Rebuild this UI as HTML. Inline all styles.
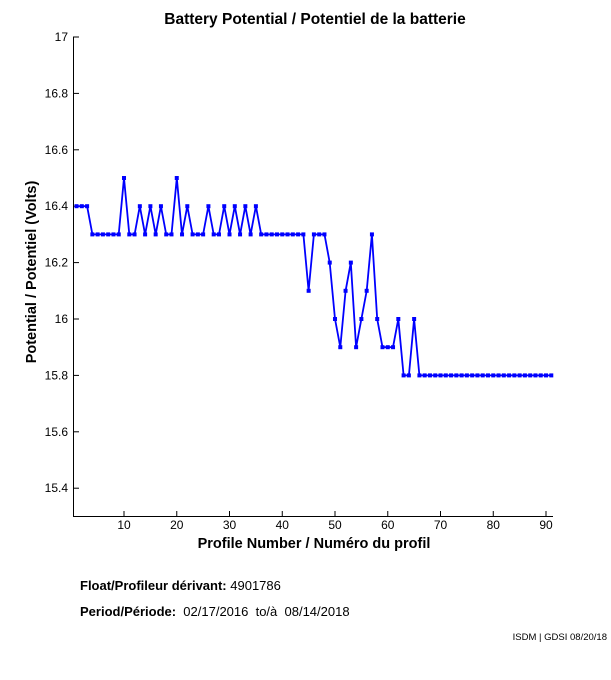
<!DOCTYPE html>
<html><head><meta charset="utf-8"><style>
body{margin:0;background:#fff;width:611px;height:675px;overflow:hidden}
svg text{font-family:"Liberation Sans",sans-serif}
</style></head><body>
<svg id="s" width="611" height="675" xmlns="http://www.w3.org/2000/svg">
<text x="315" y="24" font-size="15.5" font-weight="bold" text-anchor="middle">Battery Potential / Potentiel de la batterie</text>
<line x1="73.5" y1="37" x2="73.5" y2="516.5" stroke="#000"/>
<line x1="73" y1="516.5" x2="553" y2="516.5" stroke="#000"/>
<g id="ax" font-size="12"></g>
<text x="314" y="548" font-size="14.5" font-weight="bold" text-anchor="middle">Profile Number / Numéro du profil</text>
<text transform="translate(36,272) rotate(-90)" font-size="14.5" font-weight="bold" text-anchor="middle">Potential / Potentiel (Volts)</text>
<text x="80" y="590" font-size="13"><tspan font-weight="bold">Float/Profileur dérivant:</tspan> 4901786</text>
<text x="80" y="616" font-size="13" xml:space="preserve"><tspan font-weight="bold">Period/Période:</tspan>  02/17/2016  to/à  08/14/2018</text>
<text x="607" y="640" font-size="9.5" text-anchor="end">ISDM | GDSI 08/20/18</text>
<g id="d"></g>
</svg>
<script>
var v=[16.4,16.4,16.4,16.3,16.3,16.3,16.3,16.3,16.3,16.5,16.3,16.3,16.4,16.3,16.4,16.3,16.4,16.3,16.3,16.5,16.3,16.4,16.3,16.3,16.3,16.4,16.3,16.3,16.4,16.3,16.4,16.3,16.4,16.3,16.4,16.3,16.3,16.3,16.3,16.3,16.3,16.3,16.3,16.3,16.1,16.3,16.3,16.3,16.2,16.0,15.9,16.1,16.2,15.9,16.0,16.1,16.3,16.0,15.9,15.9,15.9,16.0,15.8,15.8,16.0];
while(v.length<91)v.push(15.8);
function px(x){return 73.9+(x-0.5)*5.275}
function py(y){return 37+(17-y)*282}
var ns="http://www.w3.org/2000/svg",d=document.getElementById('d'),ax=document.getElementById('ax');
var pts=v.map(function(y,i){return px(i+1).toFixed(1)+","+py(y).toFixed(1)}).join(" ");
var pl=document.createElementNS(ns,"polyline");pl.setAttribute("points",pts);pl.setAttribute("fill","none");pl.setAttribute("stroke","#0000ff");pl.setAttribute("stroke-width","1.8");d.appendChild(pl);
v.forEach(function(y,i){var r=document.createElementNS(ns,"rect");r.setAttribute("x",px(i+1)-2);r.setAttribute("y",py(y)-2);r.setAttribute("width",4);r.setAttribute("height",4);r.setAttribute("fill","#0000ff");d.appendChild(r);});
for(var k=0;k<=8;k++){var y=15.4+k*0.2,Y=py(y);
var l=document.createElementNS(ns,"line");l.setAttribute("x1",73);l.setAttribute("x2",79);l.setAttribute("y1",Y);l.setAttribute("y2",Y);l.setAttribute("stroke","#000");ax.appendChild(l);
var t=document.createElementNS(ns,"text");t.setAttribute("x",68);t.setAttribute("y",Y+4);t.setAttribute("text-anchor","end");t.textContent=(Math.round(y*10)/10).toString();ax.appendChild(t);}
for(var x=10;x<=90;x+=10){var X=px(x);
var l=document.createElementNS(ns,"line");l.setAttribute("x1",X);l.setAttribute("x2",X);l.setAttribute("y1",511);l.setAttribute("y2",516);l.setAttribute("stroke","#000");ax.appendChild(l);
var t=document.createElementNS(ns,"text");t.setAttribute("x",X);t.setAttribute("y",529);t.setAttribute("text-anchor","middle");t.textContent=x;ax.appendChild(t);}
</script>
</body></html>
